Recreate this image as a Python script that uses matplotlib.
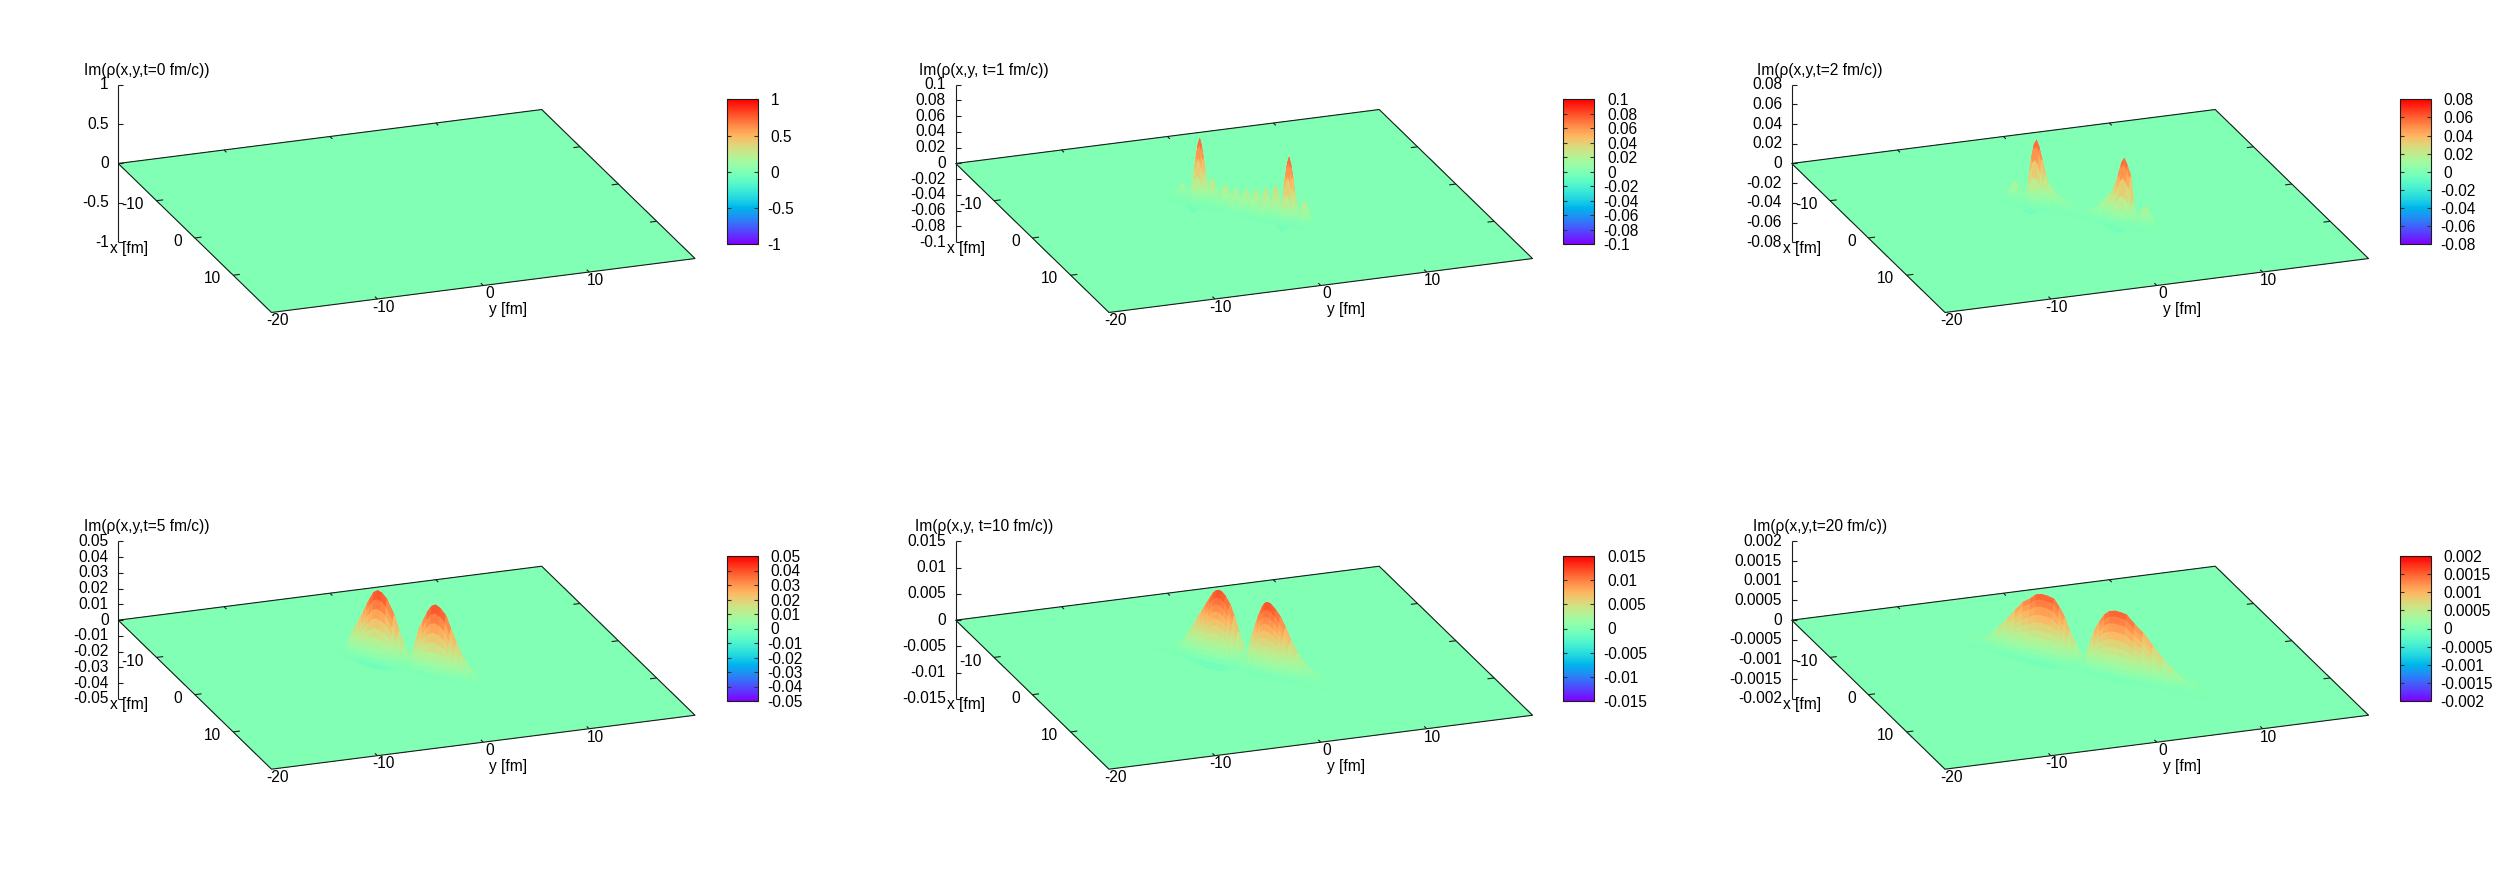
import numpy as np
import matplotlib
matplotlib.use("Agg")
import matplotlib.pyplot as plt
from matplotlib.cm import ScalarMappable
from matplotlib.colors import Normalize
from matplotlib.transforms import ScaledTranslation
from mpl_toolkits.mplot3d import proj3d

plt.rcParams['font.family'] = ['Liberation Sans', 'DejaVu Sans']

# ---------- chart values ----------
titles = ['Im(ρ(x,y,t=0 fm/c))', 'Im(ρ(x,y, t=1 fm/c))', 'Im(ρ(x,y,t=2 fm/c))',
          'Im(ρ(x,y,t=5 fm/c))', 'Im(ρ(x,y, t=10 fm/c))', 'Im(ρ(x,y,t=20 fm/c))']
z_tops = [1, 0.1, 0.08, 0.05, 0.015, 0.002]
z_labels_t0 = ['1', '0.5', '0', '-0.5', '-1']
z_labels_t1 = ['0.1', '0.08', '0.06', '0.04', '0.02', '0', '-0.02', '-0.04', '-0.06', '-0.08', '-0.1']
z_labels_t2 = ['0.08', '0.06', '0.04', '0.02', '0', '-0.02', '-0.04', '-0.06', '-0.08']
z_labels_t5 = ['0.05', '0.04', '0.03', '0.02', '0.01', '0', '-0.01', '-0.02', '-0.03', '-0.04', '-0.05']
z_labels_t10 = ['0.015', '0.01', '0.005', '0', '-0.005', '-0.01', '-0.015']
z_labels_t20 = ['0.002', '0.0015', '0.001', '0.0005', '0', '-0.0005', '-0.001', '-0.0015', '-0.002']
x_ticks = [-10, 0, 10]
y_ticks = [-20, -10, 0, 10]

# Heights along the ridge (s = position along the x=y diagonal, fm)
t1_s = [-5.5,-5.25,-5.0,-4.85,-4.69,-4.53,-4.35,-4.15,-4.03,-3.91,-3.77,-3.65,-3.53,-3.41,-3.29,-3.17,-3.05,-2.91,-2.8,
        -2.68,-2.57,-2.47,-2.37,-2.26,-2.14,-2.03,-1.9,-1.75,-1.62,-1.51,-1.4,-1.27,-1.14,-1.02,-0.9,-0.77,-0.64,-0.5,-0.39,
        -0.27,-0.13,0.01,0.15,0.27,0.36,0.47,0.6,0.72,0.85,0.98,1.07,1.18,1.3,1.42,1.55,1.68,1.78,1.9,2.02,2.13,2.26,2.4,2.49,
        2.61,2.75,2.87,2.99,3.11,3.23,3.35,3.47,3.61,3.73,3.85,4.0,4.12,4.24,4.38,4.55,4.75,5.0]
t1_h = [0,.002,.007,.012,.016,.012,.007,.002,.008,.02,.039,.056,.07,.0775,.07,.056,.039,.02,.012,
        .02,.027,.03,.027,.02,.013,.009,.013,.02,.024,.0252,.023,.017,.011,.012,.02,.025,.02,.012,.009,
        .015,.023,.0254,.022,.014,.009,.016,.025,.028,.024,.014,.01,.018,.028,.032,.027,.016,.011,.02,.033,.0387,.03,.016,.01,
        .02,.039,.056,.07,.0775,.07,.056,.039,.02,.008,.005,.015,.023,.0266,.022,.012,.004,0]
t1_v = [-2,-1.7,-1.4,-1.1,-0.8,-0.5,-0.2,0.05,0.3,0.5,0.7,0.9,1.2,1.5,1.9,2.4,3]
t1_w = [0,-.05,-.12,-.05,.03,.1,.22,.42,.7,.92,1,.92,.7,.45,.25,.1,0]
# the lower, nearer row of small bumps at t=1
t1_row2_s = [-1.12,-0.95,-0.78,-0.61,-0.42,-0.25,-0.05,0.15,0.33,0.5,0.68,0.87,1.08,1.28,1.48,1.68,1.88]
t1_row2_h = [0,.012,.021,.012,.002,.011,.02,.011,.002,.011,.021,.011,.002,.012,.021,.012,0]
t1_row2_v = [-1.3,-1.0,-0.75,-0.5,-0.25,0.0,0.3]
t1_row2_w = [0,.3,.75,1,.75,.3,0]

t2_s = [-5.63,-5.33,-5.08,-4.8,-4.53,-4.33,-4.2,-4.03,-3.95,-3.78,-3.59,-3.41,-3.23,-3.05,-2.87,-2.63,-2.38,-1.98,-1.54,-1.03,-0.57,0.15,
        0.44,0.94,1.4,1.84,2.25,2.49,2.73,2.94,3.14,3.34,3.57,3.74,3.94,4.04,4.19,4.39,4.66,4.94,5.24,5.74]
t2_h = [0,.004,.011,.016,.011,.004,.001,.0022,.006,.021,.044,.057,.062,.056,.046,.031,.0205,.0135,.0093,.0055,.0037,.0006,
        .0019,.005,.011,.018,.0254,.034,.0453,.057,.062,.056,.0477,.022,.0019,.001,.005,.013,.018,.013,.005,0]
t2_v = [-2.6,-2.2,-1.9,-1.6,-1.3,-1.0,-0.7,-0.4,-0.15,0.1,0.28,0.5,0.8,1.1,1.5,2,2.6]
t2_w = [0,-.05,-.12,-.05,.03,.1,.22,.42,.7,.92,1,.92,.7,.45,.25,.1,0]

t5_s = [-5.4,-4.9,-4.57,-4.18,-3.83,-3.56,-3.28,-3.06,-2.78,-2.48,-2.18,-1.8,-1.3,-0.93,-0.58,-0.28,-0.13,-0.05,0.1,0.4,0.64,0.95,1.27,1.6,1.9,2.25,2.65,3,3.41,3.8,4.16,4.55,4.92,5.4]
t5_h = [0,.0012,.0088,.0155,.0214,.026,.032,.0357,.0402,.042,.0412,.0382,.0298,.0205,.0115,.0045,0,0,.0075,.0165,.024,.03,.0361,.0405,.042,.0405,.037,.0295,.0214,.0145,.0101,.0045,.0013,0]
t5_v = [-1,-0.6,-0.3,-0.1,0.05,0.2,0.35,0.5,0.65,0.8,0.95,1.15,1.4,1.7,2,2.4,2.8,3.2,3.6,4]
t5_w = [-.04,-.1,-.05,.02,.1,.2,.32,.46,.6,.74,.88,1,.96,.84,.68,.47,.3,.17,.07,0]

t10_s = [-7.04,-5.81,-5.24,-4.8,-4.34,-3.92,-3.59,-3.29,-2.99,-2.74,-2.54,-2.34,-2.14,-1.84,-1.54,-1.24,-0.91,-0.64,-0.46,-0.34,-0.16,0.16,0.44,0.66,0.94,1.14,1.34,1.59,1.94,2.29,2.64,3.05,3.54,4.05,4.64,5.31,6.31]
t10_h = [0,.0002,.0007,.0024,.0043,.0064,.0079,.0094,.0107,.0118,.0123,.0125,.0124,.0117,.0105,.0085,.0058,.0022,0,0,.0015,.0055,.0078,.0096,.0114,.0122,.0125,.0123,.0115,.0104,.0087,.0064,.0042,.0025,.0012,.0005,0]
t10_v = [-1.2,-0.8,-0.45,-0.2,0,0.15,0.3,0.45,0.6,0.75,0.9,1.05,1.2,1.4,1.68,2,2.4,2.8,3.2,3.6,4,4.6]
t10_w = [-.03,-.1,-.1,-.03,.05,.12,.2,.3,.4,.5,.6,.7,.8,.9,1,.95,.8,.62,.45,.3,.16,0]

t20_s = [-8.5,-7.39,-6.83,-6.28,-5.63,-5.05,-4.48,-3.94,-3.53,-3.13,-2.68,-2.22,-1.83,-1.48,-1.13,-0.74,-0.48,-0.25,-0.18,0.01,0.19,0.51,0.81,1.21,1.55,1.91,2.31,2.76,3.15,3.76,4.38,5.11,5.86,6.61,7.34,8.21,9.06,9.71]
t20_h = [.00002,.00014,.00028,.00048,.00075,.00101,.00125,.00138,.00151,.00155,.00154,.0015,.00132,.00112,.0008,.0005,.00022,0,0,.00012,.00031,.00067,.00095,.00122,.0014,.00151,.00155,.00154,.00152,.00132,.00115,.00086,.00059,.00036,.00019,.00007,.00002,0]
t20_v = [-1.2,-0.8,-0.45,-0.2,0,0.12,0.24,0.36,0.48,0.6,0.72,0.85,0.97,1.1,1.35,1.7,2.1,2.5,3,3.6,4.2]
t20_w = [-.02,-.08,-.07,-.03,.04,.12,.22,.33,.44,.56,.68,.81,.92,1,.97,.86,.7,.52,.3,.12,0]

ridge_slants = [0, .21, .19, .35, .35, .27]   # tilt of the ridge against the diagonal
trough_right = [1, 1, 1, .3, .25, .5]         # how deep the dip is in front of the right-hand hill

# ---------- layout, in pixels of the 2496 x 888 picture ----------
W, H = 2496, 888
col_shift = [0, 837.5, 1673.5]
row_shift = [0, 456.7]
BL = np.array([118.2, 163.3])   # (x=-20, y=-20) corner
FR = np.array([695.0, 258.7])   # (x=20, y=20) corner
ELEV, AZIM = 20.6, -19.9
Z_RATIO = 0.3737
cbar_left = [726.5, 1563.0, 2399.6]
cbar_w, cbar_top, cbar_h = 31.0, 99.3, 145.0
FS = 11.2
INK = '#1c1c1c'

fig = plt.figure(figsize=(W / 100, H / 100), dpi=100, facecolor='white')
cmap = plt.get_cmap('rainbow')


def project(ax, x, y, z):
    px, py, _ = proj3d.proj_transform(x, y, z, ax.get_proj())
    return ax.transData.transform((px, py))


def place_axes(ax, bl, fr):
    """Scale and move the 3D axes so that its base sits on the wanted corners."""
    side = 800.0
    cx, cy = (bl + fr) / 2
    ax.set_position([(cx - side / 2) / W, 1 - (cy + side / 2) / H, side / W, side / H])
    ax.apply_aspect()
    a = project(ax, -20, -20, 0)
    b = project(ax, 20, 20, 0)
    side *= (fr[0] - bl[0]) / (b[0] - a[0])
    ax.set_position([(cx - side / 2) / W, 1 - (cy + side / 2) / H, side / W, side / H])
    ax.apply_aspect()
    c = (project(ax, -20, -20, 0) + project(ax, 20, 20, 0)) / 2
    left = (cx - side / 2) + (cx - c[0])
    bottom = H - (cy + side / 2) + ((H - cy) - c[1])
    ax.set_position([left / W, bottom / H, side / W, side / H])
    ax.apply_aspect()


def ridge_surface(ax, norm, s, h, v, w, slant, zorder, right_dip=1.0):
    ss, vv = np.meshgrid(np.array(s, float), np.array(v, float))
    zz = np.outer(w, h)
    zz[(zz < 0) & (ss > 0)] *= right_dip
    vd = vv - slant * ss
    xx, yy = ss - vd / 2, ss + vd / 2
    avg = (zz[:-1, :-1] + zz[1:, :-1] + zz[:-1, 1:] + zz[1:, 1:]) / 4
    ax.plot_surface(xx, yy, zz, facecolors=cmap(norm(avg)), shade=False,
                    rstride=1, cstride=1, linewidth=0.25, antialiased=True, zorder=zorder)


def draw_panel(idx, title, ztop, zlabels, ridge=None, row2=None):
    col, row = idx % 3, idx // 3
    shift = np.array([col_shift[col], row_shift[row]])
    bl, fr = BL + shift, FR + shift
    ax = fig.add_axes([0, 0, 1, 1], projection='3d', proj_type='ortho', computed_zorder=False)
    ax.view_init(elev=ELEV, azim=AZIM)
    ax.set_box_aspect((1, 1, Z_RATIO))
    ax.set_xlim(-20, 20)
    ax.set_ylim(-20, 20)
    ax.set_zlim(-ztop, ztop)
    ax.set_axis_off()
    place_axes(ax, bl, fr)
    norm = Normalize(-ztop, ztop)

    # flat zero plane
    gx, gy = np.meshgrid([-20.0, 20.0], [-20.0, 20.0])
    ax.plot_surface(gx, gy, np.zeros_like(gx), color=cmap(0.5), shade=False,
                    rstride=1, cstride=1, linewidth=0, antialiased=False, zorder=1)

    if ridge is not None:
        ridge_surface(ax, norm, *ridge, ridge_slants[idx], 2, trough_right[idx])
    if row2 is not None:
        ridge_surface(ax, norm, *row2, ridge_slants[idx], 3)

    # border of the base and its ticks
    line = dict(color=INK, lw=0.8, zorder=5, solid_capstyle='butt')
    ax.plot([-20, -20, 20, 20, -20], [-20, 20, 20, -20, -20], [0] * 5, **line)
    tick = 0.63
    for t in x_ticks:
        ax.plot([t, t], [-20, -20 + tick], [0, 0], **line)
        ax.plot([t, t], [20, 20 - tick], [0, 0], **line)
    for t in [-10, 0, 10]:
        ax.plot([20, 20 - tick], [t, t], [0, 0], **line)
        ax.plot([-20, -20 + tick], [t, t], [0, 0], **line)

    # z axis with ticks pointing to the right of the screen
    ax.plot([-20, -20], [-20, -20], [-ztop, ztop], **line)
    zvals = np.array([float(t) for t in zlabels])
    L = 0.43
    dx, dy = L * np.sin(np.radians(-AZIM)), L * np.cos(np.radians(-AZIM))

    def label(x3, y3, z3, txt, ox, oy, ha='center'):
        px = project(ax, x3, y3, z3)
        fig.text((px[0] + ox) / W, (px[1] - oy) / H, txt, ha=ha, va='center', fontsize=FS, color='black')

    for z, lab in zip(zvals, zlabels):
        ax.plot([-20, -20 + dx], [-20, -20 + dy], [z, z], **line)
        label(-20, -20, z, lab, -9.7, 0, ha='right')
    for t in x_ticks:
        label(t, -20, 0, str(t), -12.6, 3.7, ha='right')
    for t in y_ticks:
        label(20, t, 0, str(t), 6.0, 8.3)
    label(20, 0, 0, 'y [fm]', 25.2, 24.3)
    label(-20, -20, -ztop, 'x [fm]', 10.7, 5.8)
    label(-20, -20, ztop, title, 28.4, -14.5)

    # colour bar
    top = cbar_top + row_shift[row]
    cax = fig.add_axes([cbar_left[col] / W, 1 - (top + cbar_h) / H, cbar_w / W, cbar_h / H])
    cb = fig.colorbar(ScalarMappable(norm=norm, cmap=cmap), cax=cax, ticks=zvals)
    cb.set_ticklabels(zlabels)
    cb.outline.set_linewidth(0.8)
    cb.outline.set_edgecolor(INK)
    cax.tick_params(axis='y', direction='in', left=True, right=True, length=3.0, width=0.8,
                    color='#333333', labelsize=FS, pad=9.5)
    for lbl in cax.get_yticklabels():
        if lbl.get_text().startswith('-'):
            lbl.set_transform(lbl.get_transform() + ScaledTranslation(-3.9 / 100, 0, fig.dpi_scale_trans))


draw_panel(0, titles[0], z_tops[0], z_labels_t0)
draw_panel(1, titles[1], z_tops[1], z_labels_t1, (t1_s, t1_h, t1_v, t1_w), (t1_row2_s, t1_row2_h, t1_row2_v, t1_row2_w))
draw_panel(2, titles[2], z_tops[2], z_labels_t2, (t2_s, t2_h, t2_v, t2_w))
draw_panel(3, titles[3], z_tops[3], z_labels_t5, (t5_s, t5_h, t5_v, t5_w))
draw_panel(4, titles[4], z_tops[4], z_labels_t10, (t10_s, t10_h, t10_v, t10_w))
draw_panel(5, titles[5], z_tops[5], z_labels_t20, (t20_s, t20_h, t20_v, t20_w))

fig.savefig('out.png', dpi=100)
